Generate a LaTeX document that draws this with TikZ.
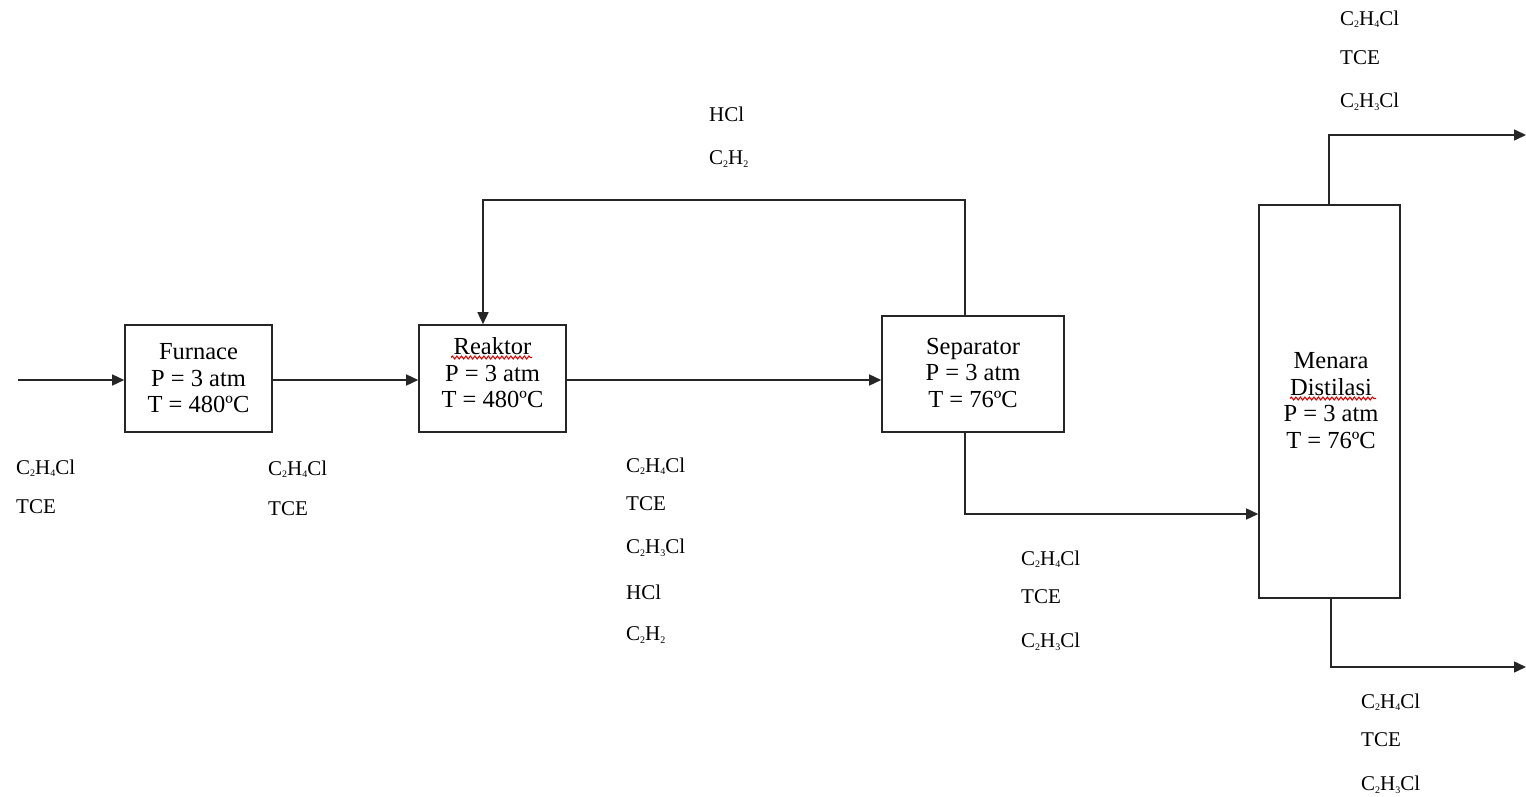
\documentclass[tikz,border=0pt]{standalone}
\usepackage{fontspec}
\setmainfont{Liberation Serif}
\usetikzlibrary{arrows.meta,decorations.pathmorphing,calc}
\newcommand\chsub[1]{\raisebox{-2.5pt}{\fontsize{10}{10}\selectfont #1}}
\begin{document}
\begin{tikzpicture}[x=1pt,y=-1pt,
  unit/.style={draw=black!85,line width=1.6pt,rectangle,inner sep=0pt},
  unittext/.style={align=center,inner sep=0pt,font=\fontsize{24.5}{26.5}\selectfont},
  lbl/.style={anchor=west,inner sep=0pt,font=\fontsize{21}{21}\selectfont},
  flow/.style={draw=black!85,line width=1.5pt},
  arr/.style={flow,-{Triangle[length=12pt,width=11pt]}},
  spell/.style={draw=red!85!black,line width=1.1pt,decorate,decoration={snake,amplitude=1.4pt,segment length=4.5pt}}]
\useasboundingbox (0,0) rectangle (1526,797);
\fill[white] (0,0) rectangle (1526,797);

% units
\node[unit,minimum width=147pt,minimum height=107pt] (furnace) at (198.5,378.5) {};
\node[unittext] (furnacetext) at (198.5,378.5) {Furnace\\P = 3 atm\\T = 480ºC};
\node[unit,minimum width=147pt,minimum height=107pt] (reaktor) at (492.5,378.5) {};
\node[unittext] (reaktortext) at (492.5,373) {Reaktor\\P = 3 atm\\T = 480ºC};
\node[unit,minimum width=182pt,minimum height=116pt] (separator) at (973,374) {};
\node[unittext] (separatortext) at (973,373) {Separator\\P = 3 atm\\T = 76ºC};
\node[unit,minimum width=141pt,minimum height=393pt] (column) at (1329.5,401.5) {};
\node[unittext] (columntext) at (1331,400.5) {Menara\\Distilasi\\P = 3 atm\\T = 76ºC};

% spell-check underlines
\draw[spell] (451,357.5) -- (532,357.5);
\draw[spell] (1290,398.5) -- (1376,398.5);

% connectors
\coordinate (feed) at (18,380);
\draw[arr] (feed) -- (feed -| furnace.west);
\draw[arr] ([yshift=-1.5pt]furnace.east) -- ([yshift=-1.5pt]reaktor.west);
\draw[arr] ([yshift=-1.5pt]reaktor.east) -- ([yshift=-1.5pt]reaktor.east -| separator.west);
\coordinate (recR) at (965,200);
\coordinate (recL) at (483,200);
\draw[arr] ([xshift=-8pt]separator.north) -- (recR) -- (recL) -- ([xshift=-9.5pt]reaktor.north);
\coordinate (liqC) at (965,514);
\draw[arr] ([xshift=-8pt]separator.south) -- (liqC) -- (liqC -| column.west);
\coordinate (topC) at (1329,135);
\coordinate (topE) at (1526,135);
\draw[arr] ([xshift=-0.5pt]column.north) -- (topC) -- (topE);
\coordinate (botC) at (1331,667);
\coordinate (botE) at (1526,667);
\draw[arr] ([xshift=1.5pt]column.south) -- (botC) -- (botE);

% stream labels
\node[lbl] (a1) at (16,468) {C\chsub{2}H\chsub{4}Cl};
\node[lbl] (a2) at (16,507) {TCE};
\node[lbl] (b1) at (268,469) {C\chsub{2}H\chsub{4}Cl};
\node[lbl] (b2) at (268,509) {TCE};
\node[lbl] (c1) at (626,466) {C\chsub{2}H\chsub{4}Cl};
\node[lbl] (c2) at (626,504) {TCE};
\node[lbl] (c3) at (626,548) {C\chsub{2}H\chsub{3}Cl};
\node[lbl] (c4) at (626,592) {HCl};
\node[lbl] (c5) at (626,635) {C\chsub{2}H\chsub{2}};
\node[lbl] (d1) at (709,114) {HCl};
\node[lbl] (d2) at (709,159) {C\chsub{2}H\chsub{2}};
\node[lbl] (e1) at (1021,559) {C\chsub{2}H\chsub{4}Cl};
\node[lbl] (e2) at (1021,597) {TCE};
\node[lbl] (e3) at (1021,642) {C\chsub{2}H\chsub{3}Cl};
\node[lbl] (f1) at (1340,19) {C\chsub{2}H\chsub{4}Cl};
\node[lbl] (f2) at (1340,58) {TCE};
\node[lbl] (f3) at (1340,102) {C\chsub{2}H\chsub{3}Cl};
\node[lbl] (g1) at (1361,702) {C\chsub{2}H\chsub{4}Cl};
\node[lbl] (g2) at (1361,740) {TCE};
\node[lbl] (g3) at (1361,785) {C\chsub{2}H\chsub{3}Cl};
\end{tikzpicture}
\end{document}
